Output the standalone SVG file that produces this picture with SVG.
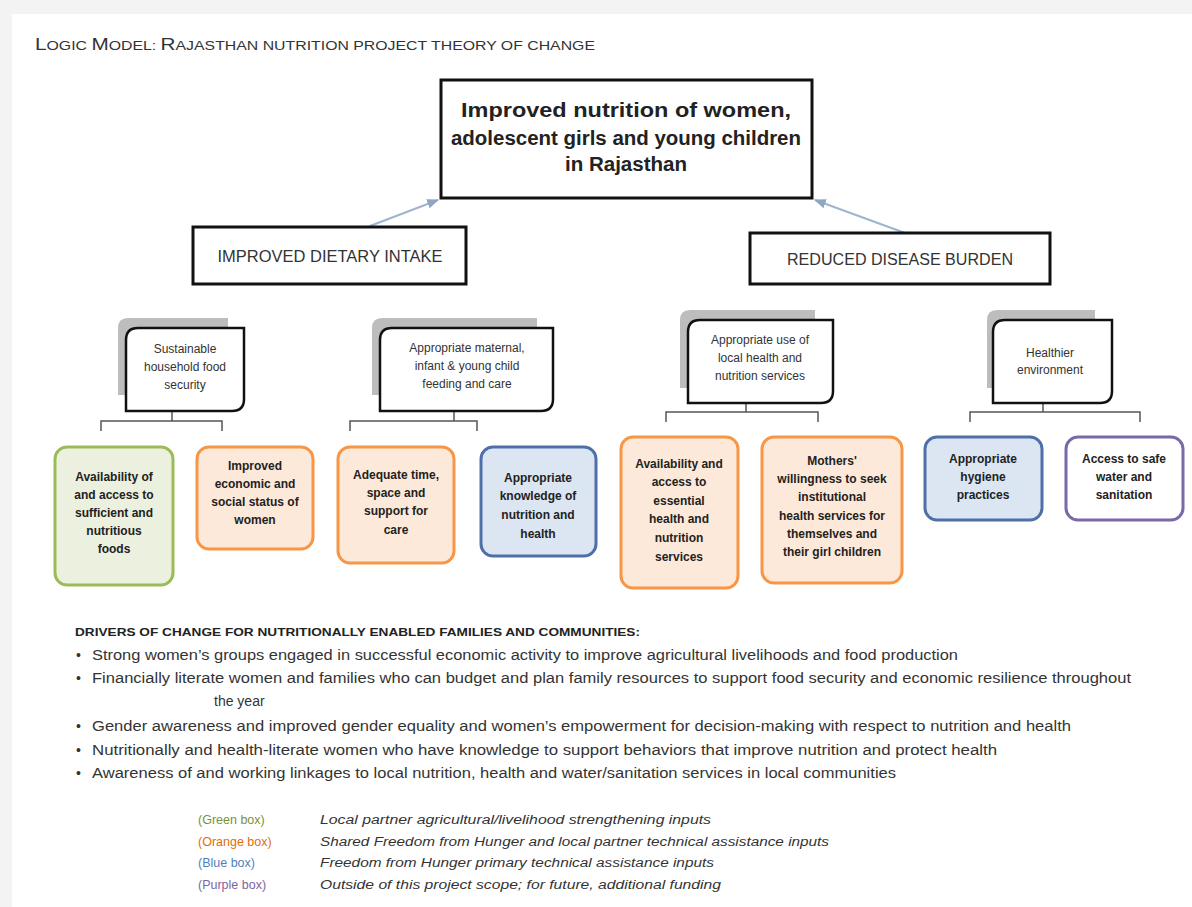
<svg xmlns="http://www.w3.org/2000/svg" width="1192" height="907" viewBox="0 0 1192 907">
<defs>
<marker id="ah" viewBox="0 0 10 10" refX="9" refY="5" markerWidth="6" markerHeight="6" orient="auto">
<path d="M0,1 L10,5 L0,9 Z" fill="#8ea6c4"/>
</marker>
<style>
text{font-family:"Liberation Sans",Arial,sans-serif;fill:#222}
.box{fill:#fff;stroke:#111;stroke-width:3}
.l2{fill:#fff;stroke:#111;stroke-width:2.5}
.sh{fill:#bdbdbd}
.t2{font-size:12px;text-anchor:middle;fill:#333}
.t3{font-size:12px;font-weight:bold;text-anchor:middle;fill:#222}
.green{fill:#ebf1de;stroke:#9bbb59;stroke-width:3}
.orange{fill:#fde9d9;stroke:#f79646;stroke-width:3}
.blue{fill:#dce6f2;stroke:#4f6fa8;stroke-width:3}
.purple{fill:#fff;stroke:#7b68a6;stroke-width:3}
.br{fill:none;stroke:#555;stroke-width:1.5}
.arr{stroke:#9fb4cd;stroke-width:2;marker-end:url(#ah)}
.bul{font-size:14px;fill:#333}
.leg{font-size:12.5px}
.desc{font-size:12.5px;font-style:italic;fill:#333}
</style>
</defs>
<rect x="0" y="0" width="1192" height="907" fill="#f3f3f3"/>
<rect x="12" y="14" width="1180" height="893" fill="#fff"/>

<text id="title" x="35" y="50" textLength="560" lengthAdjust="spacingAndGlyphs" style="fill:#333"><tspan font-size="17">L</tspan><tspan font-size="13">OGIC </tspan><tspan font-size="17">M</tspan><tspan font-size="13">ODEL:  </tspan><tspan font-size="17">R</tspan><tspan font-size="13">AJASTHAN NUTRITION PROJECT THEORY OF CHANGE</tspan></text>

<g id="connectors">
<line class="arr" x1="370" y1="226" x2="438" y2="200"/>
<line class="arr" x1="905" y1="233" x2="815" y2="200"/>
<path class="br" d="M172,411 V421 M101,431 V421 H222 V431"/>
<path class="br" d="M454,411 V421 M350,431 V421 H477 V431"/>
<path class="br" d="M746,403 V412 M666,422 V412 H818 V422"/>
<path class="br" d="M1043,403 V412 M970,422 V412 H1140 V422"/>
</g>

<g id="goal">
<rect class="box" x="441" y="80" width="371" height="118"/>
<text x="626" y="117" font-size="20" font-weight="bold" text-anchor="middle" textLength="330" lengthAdjust="spacingAndGlyphs">Improved nutrition of women,</text>
<text x="626" y="145" font-size="20" font-weight="bold" text-anchor="middle" textLength="350" lengthAdjust="spacingAndGlyphs">adolescent girls and young children</text>
<text x="626" y="171" font-size="20" font-weight="bold" text-anchor="middle" textLength="122" lengthAdjust="spacingAndGlyphs">in Rajasthan</text>
</g>

<g id="dietary">
<rect class="box" x="193" y="227" width="273" height="57"/>
<text x="330" y="262" font-size="16" text-anchor="middle" textLength="225" lengthAdjust="spacingAndGlyphs" style="fill:#333">IMPROVED DIETARY INTAKE</text>
</g>

<g id="disease">
<rect class="box" x="750" y="233" width="300" height="51"/>
<text x="900" y="265" font-size="16" text-anchor="middle" textLength="226" lengthAdjust="spacingAndGlyphs" style="fill:#333">REDUCED DISEASE BURDEN</text>
</g>

<g id="foodsecurity">
<path class="sh" d="M128,318 H228 V395 H118 V328 Q118,318 128,318 Z"/>
<path class="l2" d="M138,328 H244 V399 Q244,411 232,411 H126 V340 Q126,328 138,328 Z"/>
<text class="t2" x="185" y="353">Sustainable</text>
<text class="t2" x="185" y="371">household food</text>
<text class="t2" x="185" y="389">security</text>
</g>

<g id="feeding">
<path class="sh" d="M382,318 H537 V395 H372 V328 Q372,318 382,318 Z"/>
<path class="l2" d="M392,328 H553 V399 Q553,411 541,411 H380 V340 Q380,328 392,328 Z"/>
<text class="t2" x="467" y="352">Appropriate maternal,</text>
<text class="t2" x="467" y="370">infant &amp; young child</text>
<text class="t2" x="467" y="388">feeding and care</text>
</g>

<g id="services">
<path class="sh" d="M690,310 H815 V388 H680 V320 Q680,310 690,310 Z"/>
<path class="l2" d="M700,320 H833 V391 Q833,403 821,403 H688 V332 Q688,320 700,320 Z"/>
<text class="t2" x="760" y="344">Appropriate use of</text>
<text class="t2" x="760" y="362">local health and</text>
<text class="t2" x="760" y="380">nutrition services</text>
</g>

<g id="environment">
<path class="sh" d="M997,310 H1095 V388 H987 V320 Q987,310 997,310 Z"/>
<path class="l2" d="M1005,320 H1112 V391 Q1112,403 1100,403 H993 V332 Q993,320 1005,320 Z"/>
<text class="t2" x="1050" y="357">Healthier</text>
<text class="t2" x="1050" y="374">environment</text>
</g>

<g id="availability-foods">
<rect class="green" x="55" y="447" width="118" height="138" rx="12"/>
<text class="t3" x="114" y="481">Availability of</text>
<text class="t3" x="114" y="499">and access to</text>
<text class="t3" x="114" y="517">sufficient and</text>
<text class="t3" x="114" y="535">nutritious</text>
<text class="t3" x="114" y="553">foods</text>
</g>

<g id="status-women">
<rect class="orange" x="197" y="447" width="116" height="102" rx="12"/>
<text class="t3" x="255" y="470">Improved</text>
<text class="t3" x="255" y="488">economic and</text>
<text class="t3" x="255" y="506">social status of</text>
<text class="t3" x="255" y="524">women</text>
</g>

<g id="adequate-time">
<rect class="orange" x="338" y="447" width="116" height="116" rx="12"/>
<text class="t3" x="396" y="479">Adequate time,</text>
<text class="t3" x="396" y="497">space and</text>
<text class="t3" x="396" y="515">support  for</text>
<text class="t3" x="396" y="534">care</text>
</g>

<g id="knowledge">
<rect class="blue" x="481" y="447" width="115" height="109" rx="12"/>
<text class="t3" x="538" y="482">Appropriate</text>
<text class="t3" x="538" y="500">knowledge of</text>
<text class="t3" x="538" y="519">nutrition  and</text>
<text class="t3" x="538" y="538">health</text>
</g>

<g id="availability-services">
<rect class="orange" x="621" y="437" width="117" height="151" rx="12"/>
<text class="t3" x="679" y="468">Availability and</text>
<text class="t3" x="679" y="486">access to</text>
<text class="t3" x="679" y="505">essential</text>
<text class="t3" x="679" y="523">health and</text>
<text class="t3" x="679" y="542">nutrition</text>
<text class="t3" x="679" y="561">services</text>
</g>

<g id="mothers">
<rect class="orange" x="762" y="437" width="140" height="146" rx="12"/>
<text class="t3" x="832" y="465">Mothers'</text>
<text class="t3" x="832" y="483">willingness to seek</text>
<text class="t3" x="832" y="501">institutional</text>
<text class="t3" x="832" y="520">health services for</text>
<text class="t3" x="832" y="538">themselves and</text>
<text class="t3" x="832" y="556">their girl children</text>
</g>

<g id="hygiene">
<rect class="blue" x="925" y="437" width="117" height="83" rx="12"/>
<text class="t3" x="983" y="463">Appropriate</text>
<text class="t3" x="983" y="481">hygiene</text>
<text class="t3" x="983" y="499">practices</text>
</g>

<g id="water">
<rect class="purple" x="1066" y="437" width="117" height="83" rx="12"/>
<text class="t3" x="1124" y="463">Access to safe</text>
<text class="t3" x="1124" y="481">water and</text>
<text class="t3" x="1124" y="499">sanitation</text>
</g>

<g id="drivers">
<text x="75" y="636" font-size="11" font-weight="bold" textLength="565" lengthAdjust="spacingAndGlyphs">DRIVERS OF CHANGE FOR NUTRITIONALLY ENABLED FAMILIES AND COMMUNITIES:</text>
<text class="bul" x="76" y="660">•</text>
<text class="bul" x="92" y="660" textLength="866" lengthAdjust="spacingAndGlyphs">Strong women’s groups engaged in successful economic activity to improve agricultural livelihoods  and food production</text>
<text class="bul" x="76" y="683">•</text>
<text class="bul" x="92" y="683" textLength="1039" lengthAdjust="spacingAndGlyphs">Financially literate women and families who can budget and plan family resources to support  food security and economic resilience throughout</text>
<text class="bul" x="214" y="706">the year</text>
<text class="bul" x="76" y="731">•</text>
<text class="bul" x="92" y="731" textLength="979" lengthAdjust="spacingAndGlyphs">Gender awareness and improved gender equality and women’s empowerment for decision-making  with respect to nutrition and health</text>
<text class="bul" x="76" y="755">•</text>
<text class="bul" x="92" y="755" textLength="905" lengthAdjust="spacingAndGlyphs">Nutritionally and health-literate women who have knowledge to support behaviors that improve nutrition and protect health</text>
<text class="bul" x="76" y="778">•</text>
<text class="bul" x="92" y="778" textLength="804" lengthAdjust="spacingAndGlyphs">Awareness of and working linkages to local nutrition, health and water/sanitation services in local communities</text>
</g>

<g id="legend">
<text class="leg" x="198" y="824" style="fill:#77933c">(Green  box)</text>
<text class="desc" x="320" y="824" textLength="391" lengthAdjust="spacingAndGlyphs">Local partner agricultural/livelihood strengthening inputs</text>
<text class="leg" x="198" y="846" style="fill:#e46c0a">(Orange box)</text>
<text class="desc" x="320" y="846" textLength="509" lengthAdjust="spacingAndGlyphs">Shared Freedom from Hunger and local partner technical assistance inputs</text>
<text class="leg" x="198" y="867" style="fill:#4f81bd">(Blue box)</text>
<text class="desc" x="320" y="867" textLength="394" lengthAdjust="spacingAndGlyphs">Freedom from Hunger primary technical assistance inputs</text>
<text class="leg" x="198" y="889" style="fill:#8064a2">(Purple box)</text>
<text class="desc" x="320" y="889" textLength="401" lengthAdjust="spacingAndGlyphs">Outside of this project scope; for future, additional funding</text>
</g>
</svg>
